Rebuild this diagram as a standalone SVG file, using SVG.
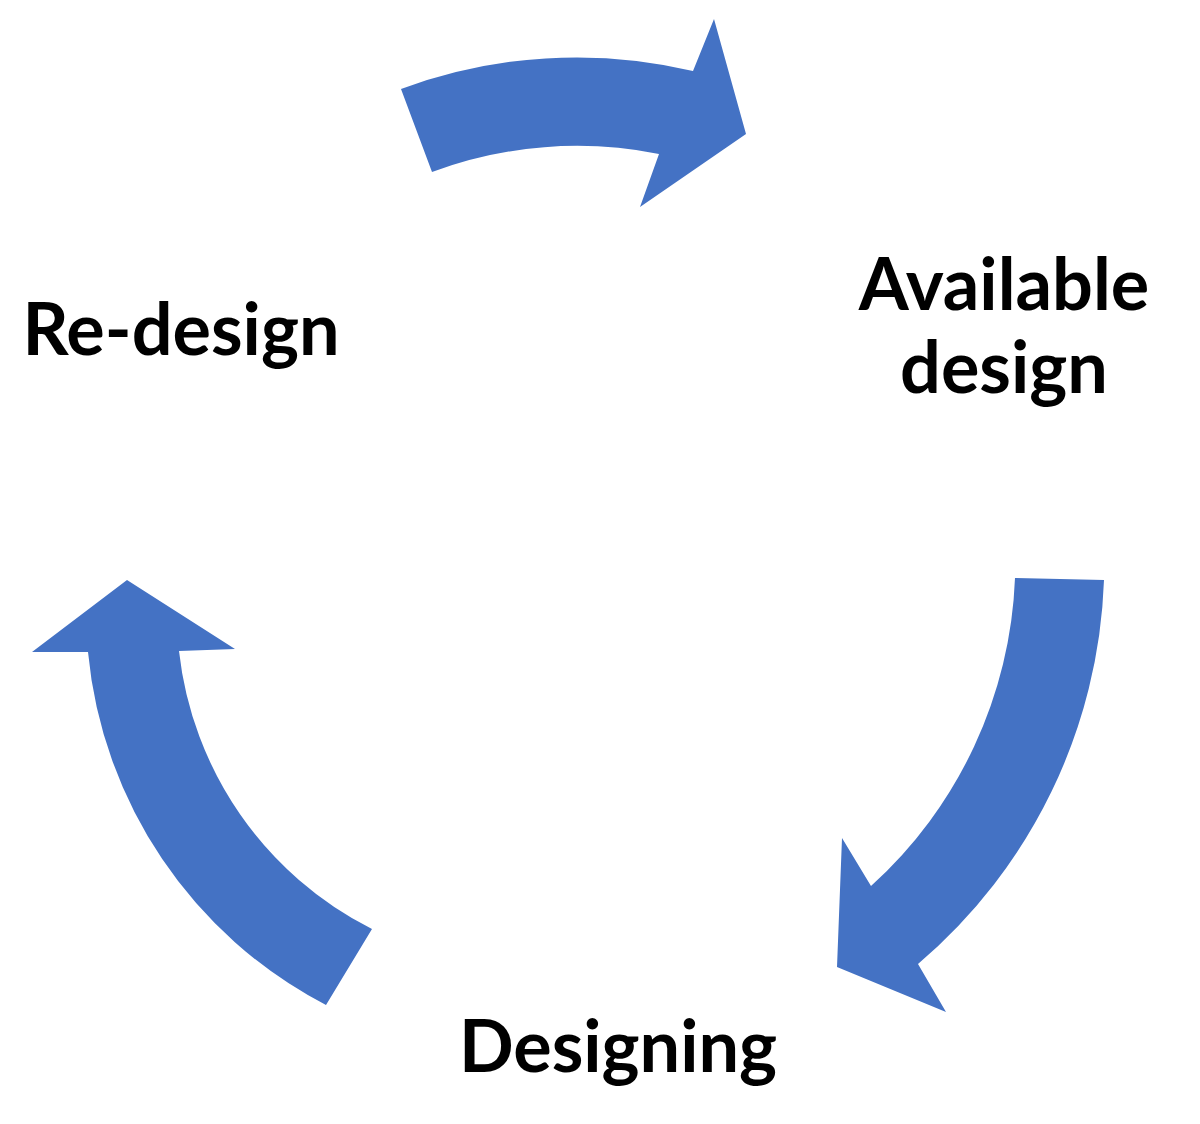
<svg xmlns="http://www.w3.org/2000/svg" width="1200" height="1124" viewBox="0 0 1200 1124">
<style>
.arrow{fill:#4472C4;stroke:none}
.lbl{font-family:Lato,"Open Sans","Liberation Sans",sans-serif;font-weight:bold;font-size:72px;fill:#000;text-anchor:middle}
</style>
<rect width="1200" height="1124" fill="#fff"/>
<g id="connectors">
<path id="arrow-top" class="arrow" d="M432,172 L401,89 A505,505 0 0 1 693,71 L714,19 L746,134 L640,207 L659,154 A416,416 0 0 0 432,172 Z"/>
<path id="arrow-right" class="arrow" d="M1015,578 L1104,580 A528,528 0 0 1 918,964 L946,1012 L837,967 L842,838 L871,886 A438,438 0 0 0 1015,578 Z"/>
<path id="arrow-left" class="arrow" d="M372,929 L326,1005 A445,445 0 0 1 88,652 L32,652 L127,580 L235,649 L179,651 A355,355 0 0 0 372,929 Z"/>
</g>
<g id="node-redesign"><text class="lbl" x="181" y="355">Re-design</text></g>
<g id="node-available"><text class="lbl" x="1004" y="310">Available</text><text class="lbl" x="1004" y="393">design</text></g>
<g id="node-designing"><text class="lbl" x="618" y="1072">Designing</text></g>
</svg>
